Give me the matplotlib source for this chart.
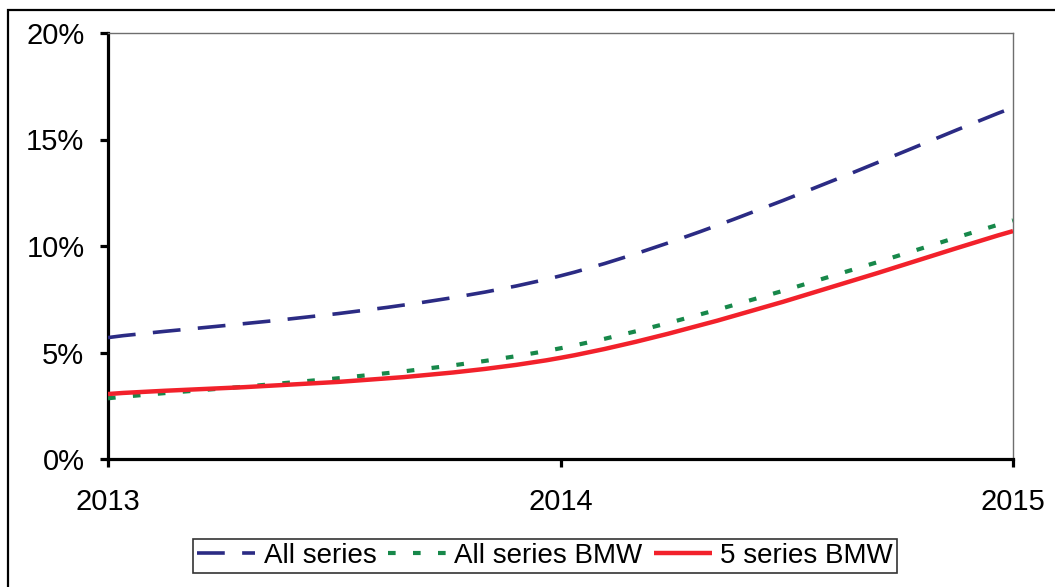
import matplotlib
matplotlib.use("Agg")
import matplotlib.pyplot as plt
from matplotlib.path import Path
from matplotlib.patches import PathPatch, Rectangle
from matplotlib.lines import Line2D
from matplotlib.ticker import FuncFormatter

plt.rcParams['font.family'] = ['Liberation Sans', 'DejaVu Sans']
plt.rcParams['lines.scale_dashes'] = False

# Data
years = [2013, 2014, 2015]
all_series = [5.7, 8.6, 16.5]
all_series_bmw = [2.85, 5.2, 11.2]
five_series_bmw = [3.05, 4.75, 10.7]
series_labels = ["All series", "All series BMW", "5 series BMW"]
y_ticks = [0, 5, 10, 15, 20]

colors = ["#2b2b84", "#17884a", "#f2212b"]


def smooth_path(xs, ys):
    """Cardinal Bezier path through the points (spreadsheet-style smoothed line)."""
    pts = list(zip(xs, ys))
    n = len(pts)
    verts = [pts[0]]
    codes = [Path.MOVETO]
    for i in range(n - 1):
        p0 = pts[i - 1] if i > 0 else pts[i]
        p1 = pts[i]
        p2 = pts[i + 1]
        p3 = pts[i + 2] if i + 2 < n else pts[i + 1]
        c1 = (p1[0] + (p2[0] - p0[0]) / 6, p1[1] + (p2[1] - p0[1]) / 6)
        c2 = (p2[0] - (p3[0] - p1[0]) / 6, p2[1] - (p3[1] - p1[1]) / 6)
        verts += [c1, c2, p2]
        codes += [Path.CURVE4] * 3
    return Path(verts, codes)


W, H = 1055, 587
fig = plt.figure(figsize=(W / 100, H / 100), dpi=100)

# Outer frame
fig.patches.append(Rectangle((8 / W, -0.2), 1.2, 1 - 10 / H + 0.2,
                             transform=fig.transFigure, fill=False,
                             edgecolor="black", linewidth=1.6, zorder=0))

left, right, top, bottom = 108, 1013, 33, 459
ax = fig.add_axes([left / W, 1 - bottom / H, (right - left) / W, (bottom - top) / H])

styles = [
    dict(linewidth=2.6, dashes=(20, 12.5)),
    dict(linewidth=3.0, dashes=(5.5, 12.5)),
    dict(linewidth=3.2),
]

handles = []
for ys, c, st, lab in zip([all_series, all_series_bmw, five_series_bmw], colors, styles, series_labels):
    patch = PathPatch(smooth_path(years, ys), fill=False, edgecolor=c,
                      linewidth=st["linewidth"], capstyle="butt", zorder=3)
    if "dashes" in st:
        patch.set_linestyle((0, st["dashes"]))
    ax.add_patch(patch)
    h = Line2D([], [], color=c, linewidth=st["linewidth"], label=lab,
               solid_capstyle="butt", dash_capstyle="butt")
    if "dashes" in st:
        h.set_dashes(st["dashes"])
    handles.append(h)

ax.set_xlim(years[0], years[-1])
ax.set_ylim(y_ticks[0], y_ticks[-1])
ax.set_xticks(years)
ax.set_yticks(y_ticks)
ax.yaxis.set_major_formatter(FuncFormatter(lambda v, p: f"{v:.0f}%"))

for s in ["left", "bottom"]:
    ax.spines[s].set_linewidth(2.3)
    ax.spines[s].set_color("black")
for s in ["top", "right"]:
    ax.spines[s].set_linewidth(1.0)
    ax.spines[s].set_color("#6e6e6e")

ax.tick_params(axis="y", direction="out", length=6, width=2.3, pad=11,
               labelsize=21, colors="black")
ax.tick_params(axis="x", direction="out", length=6, width=2.3, pad=15,
               labelsize=21, colors="black")

leg = fig.legend(handles=handles, loc="center", bbox_to_anchor=(545 / W, 1 - 556 / H),
                 ncol=3, fontsize=20, frameon=True, fancybox=False, shadow=False,
                 handlelength=2.1, handletextpad=0.3, columnspacing=0.4,
                 borderpad=0.15, borderaxespad=0)
leg.get_frame().set_edgecolor("black")
leg.get_frame().set_linewidth(1.2)

fig.savefig("out.png", dpi=100)
